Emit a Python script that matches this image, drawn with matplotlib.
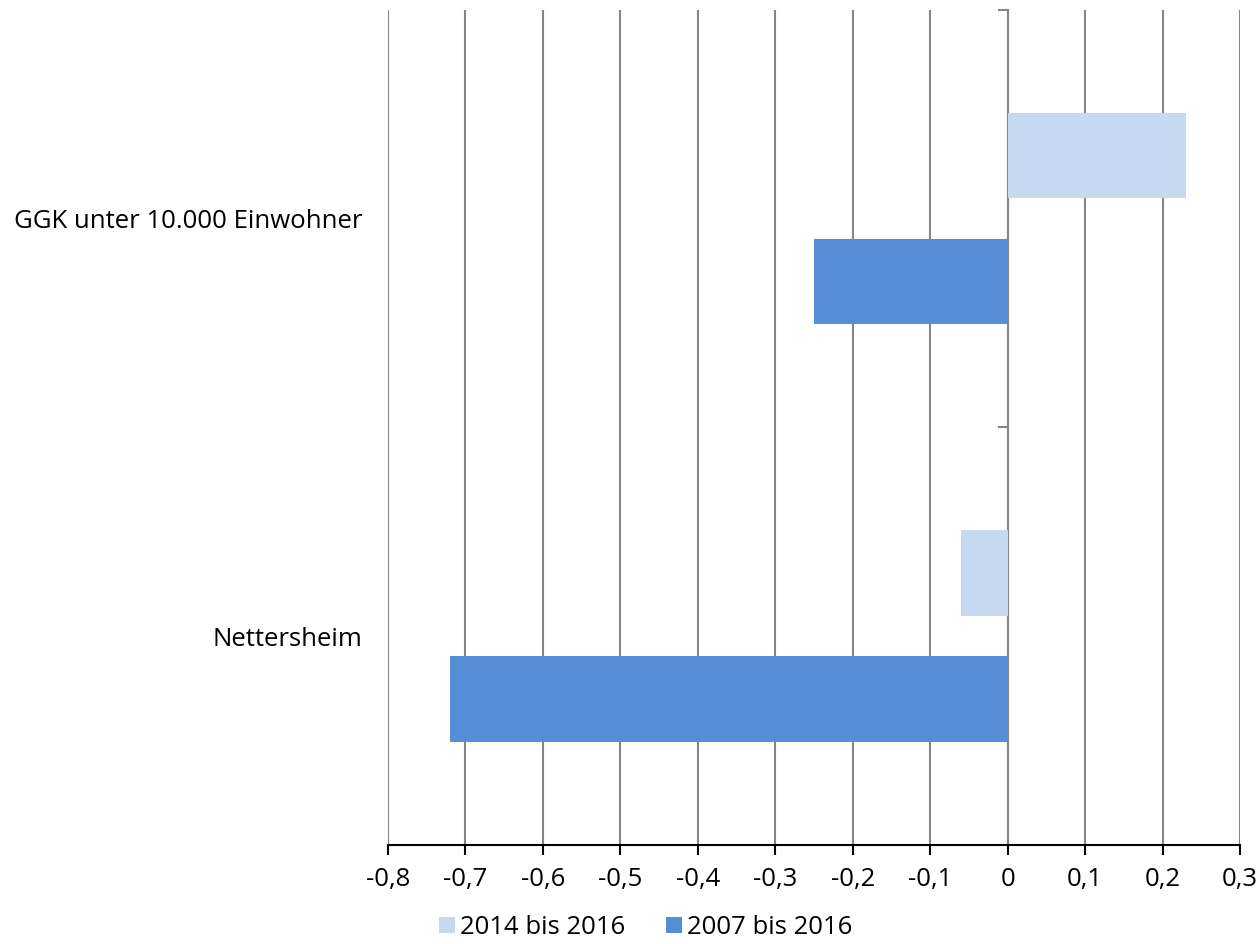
import numpy as np
import matplotlib.pyplot as plt

plt.rcParams['font.family'] = ['Open Sans', 'DejaVu Sans']

categories = ['Nettersheim', 'GGK unter 10.000 Einwohner']
vals_2014 = [-0.06, 0.23]   # 2014 bis 2016
vals_2007 = [-0.72, -0.25]  # 2007 bis 2016
series_labels = ['2014 bis 2016', '2007 bis 2016']
xticks = np.round(np.arange(-0.8, 0.31, 0.1), 1)

fs = 18.5

fig = plt.figure(figsize=(12.59, 9.44), dpi=100)
ax = fig.add_axes([0.308, 0.105, 0.677, 0.8845])

y = np.arange(len(categories))
h = 0.205
off = 0.151
ax.barh(y + off, vals_2014, height=h, color='#C6D9F1', label=series_labels[0], zorder=3)
ax.barh(y - off, vals_2007, height=h, color='#558ED5', label=series_labels[1], zorder=3)

ax.set_xlim(-0.8, 0.3)
ax.set_ylim(-0.5, 1.5)
ax.set_xticks(xticks)
ax.set_xticklabels([('%.1f' % v).replace('.', ',') if v != 0 else '0' for v in xticks])
ax.set_yticks(y)
ax.set_yticklabels(categories)
ax.tick_params(axis='y', length=0, pad=18, labelsize=fs)
ax.tick_params(axis='x', length=7, width=1.5, color='black', labelsize=fs, pad=9)
ax.grid(axis='x', color='#868686', linewidth=1.5, zorder=0)

for s in ['top', 'right', 'left']:
    ax.spines[s].set_visible(False)
ax.spines['bottom'].set_linewidth(1.5)
ax.spines['bottom'].set_zorder(4)

# vertical axis at zero with category separators
sec = ax.secondary_yaxis(0.8 / 1.1)
sec.set_yticks([0.5, 1.5])
sec.set_yticklabels([])
sec.tick_params(axis='y', length=7, width=1.5, color='#868686', direction='in')
for s in sec.spines.values():
    s.set_color('#868686')
    s.set_linewidth(1.5)

fig.legend(loc='lower center', bbox_to_anchor=(0.513, -0.02), ncol=2, frameon=False,
           fontsize=fs, handlelength=0.6, handleheight=0.6, handletextpad=0.2,
           columnspacing=1.6)

fig.savefig('out.png')
